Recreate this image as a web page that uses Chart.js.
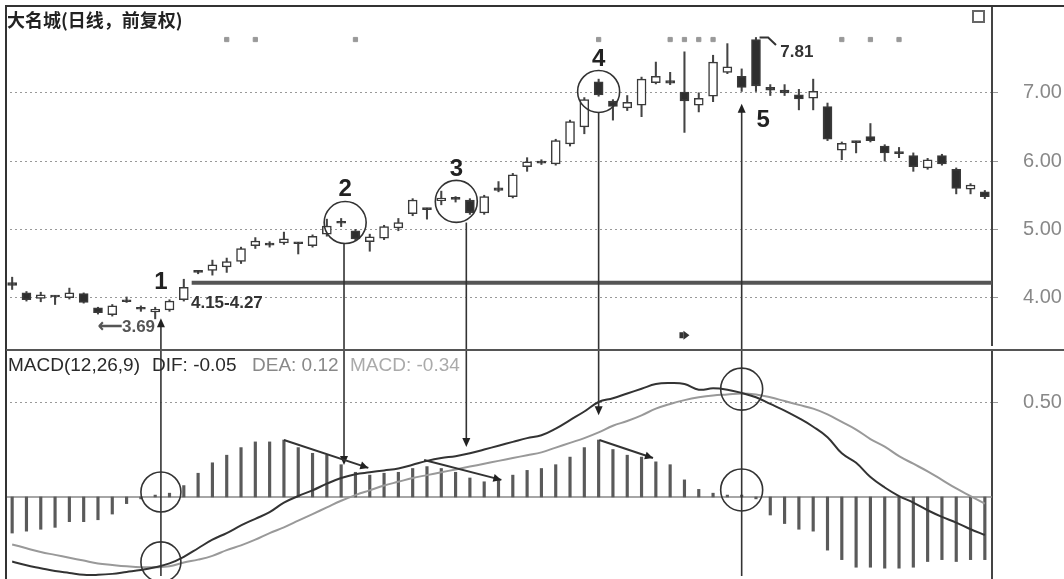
<!DOCTYPE html>
<html>
<head>
<meta charset="utf-8">
<script src="https://cdn.jsdelivr.net/npm/chart.js@4"></script>
<style>
    html, body { margin: 0; padding: 0; background: #fff; }
    #wrap { position: relative; width: 1064px; height: 579px; overflow: hidden; background: #fff; }
    canvas { position: absolute; left: 0; }
    #price { top: 0; }
    #macd { top: 350px; }
    .rule { position: absolute; background: #333; }
    #title { position: absolute; left: 7px; top: 9px; font: bold 18px "Noto Sans CJK SC", sans-serif; line-height: 20px; color: #222; }
    #legend { position: absolute; top: 355px; font: 19px "Liberation Sans", Arial, sans-serif; line-height: 20px; white-space: pre; }
    #legend span { position: absolute; top: 0; }
</style>
</head>
<body>
<div id="wrap">
    <canvas id="price" width="1064" height="350"></canvas>
    <canvas id="macd" width="1064" height="229"></canvas>
    <div class="rule" style="left:5px;top:5px;width:1059px;height:2px"></div>
    <div class="rule" style="left:5px;top:5px;width:2px;height:574px"></div>
    <div class="rule" style="left:6px;top:349px;width:1058px;height:2px;background:#555"></div>
    <div id="title">大名城(日线，前复权)</div>
    <div id="legend">
        <span style="left:8px;color:#2a2a2a">MACD(12,26,9)</span>
        <span style="left:152px;color:#2a2a2a">DIF: -0.05</span>
        <span style="left:252px;color:#888">DEA: 0.12</span>
        <span style="left:350px;color:#aaa">MACD: -0.34</span>
    </div>
</div>

<script>
// Daily candles, one per trading day
const open = [4.22, 4.07, 3.99, 4.02, 4.00, 4.06, 3.85, 3.75, 3.97, 3.86,
    3.79, 3.82, 3.97, 4.38, 4.40, 4.45, 4.53, 4.76, 4.80, 4.80,
    4.80, 4.76, 4.93, 5.10, 4.98, 4.82, 4.87, 5.02, 5.23, 5.30,
    5.42, 5.45, 5.43, 5.24, 5.61, 5.48, 5.92, 6.00, 5.96, 6.25,
    6.50, 7.16, 6.88, 6.78, 6.82, 7.15, 7.18, 7.01, 6.82, 6.95,
    7.30, 7.24, 7.78, 7.08, 7.04, 6.97, 6.92, 6.80, 6.16, 6.28,
    6.36, 6.22, 6.13, 6.08, 5.90, 6.08, 5.88, 5.59, 5.55];
const close = [4.18, 3.97, 4.04, 4.01, 4.07, 3.93, 3.78, 3.88, 3.94, 3.83,
    3.83, 3.95, 4.15, 4.37, 4.48, 4.53, 4.72, 4.83, 4.77, 4.86,
    4.79, 4.90, 5.05, 5.09, 4.86, 4.89, 5.04, 5.10, 5.43, 5.29,
    5.46, 5.44, 5.24, 5.48, 5.57, 5.80, 5.99, 5.97, 6.30, 6.58,
    6.90, 6.97, 6.80, 6.86, 7.20, 7.24, 7.14, 6.88, 6.92, 7.45,
    7.38, 7.08, 7.10, 7.04, 7.00, 6.91, 7.02, 6.32, 6.26, 6.27,
    6.30, 6.12, 6.11, 5.92, 6.02, 5.96, 5.60, 5.65, 5.48];
const high = [4.30, 4.09, 4.08, 4.03, 4.14, 4.07, 3.86, 3.90, 4.01, 3.88,
    3.86, 3.97, 4.27, 4.40, 4.55, 4.58, 4.74, 4.88, 4.82, 4.96,
    4.81, 4.92, 5.15, 5.16, 5.00, 4.93, 5.06, 5.16, 5.45, 5.31,
    5.56, 5.48, 5.45, 5.50, 5.70, 5.82, 6.05, 6.02, 6.32, 6.60,
    6.93, 7.20, 6.90, 6.96, 7.23, 7.45, 7.30, 7.60, 7.00, 7.55,
    7.72, 7.35, 7.81, 7.12, 7.12, 7.05, 7.20, 6.85, 6.28, 6.29,
    6.55, 6.24, 6.20, 6.12, 6.04, 6.10, 5.90, 5.67, 5.57];
const low = [4.12, 3.95, 3.94, 3.90, 3.98, 3.92, 3.76, 3.73, 3.93, 3.80,
    3.69, 3.80, 3.95, 4.35, 4.33, 4.37, 4.50, 4.72, 4.74, 4.78,
    4.64, 4.74, 4.90, 5.04, 4.84, 4.68, 4.85, 4.98, 5.20, 5.15,
    5.36, 5.40, 5.22, 5.22, 5.55, 5.46, 5.85, 5.95, 5.94, 6.22,
    6.40, 6.95, 6.60, 6.74, 6.65, 7.13, 7.12, 6.42, 6.72, 6.87,
    7.28, 7.02, 7.02, 6.96, 6.96, 6.75, 6.75, 6.30, 6.02, 6.12,
    6.28, 6.00, 6.05, 5.85, 5.88, 5.94, 5.52, 5.52, 5.45];

// MACD(12,26,9)
const dif = [-0.34, -0.36, -0.375, -0.39, -0.40, -0.41, -0.41, -0.405, -0.395, -0.385,
    -0.37, -0.35, -0.315, -0.27, -0.225, -0.19, -0.15, -0.115, -0.08, -0.03,
    0.005, 0.035, 0.07, 0.10, 0.12, 0.13, 0.14, 0.15, 0.17, 0.19,
    0.205, 0.215, 0.23, 0.25, 0.27, 0.29, 0.31, 0.325, 0.36, 0.405,
    0.45, 0.50, 0.52, 0.545, 0.57, 0.595, 0.60, 0.595, 0.565, 0.572,
    0.565, 0.548, 0.525, 0.49, 0.455, 0.415, 0.37, 0.315, 0.23, 0.18,
    0.105, 0.05, 0.005, -0.03, -0.07, -0.105, -0.135, -0.17, -0.20];
const dea = [-0.25, -0.27, -0.29, -0.305, -0.32, -0.335, -0.35, -0.358, -0.365, -0.37,
    -0.37, -0.365, -0.345, -0.33, -0.31, -0.28, -0.255, -0.225, -0.19, -0.16,
    -0.125, -0.09, -0.055, -0.02, 0.01, 0.035, 0.06, 0.08, 0.10, 0.115,
    0.13, 0.145, 0.16, 0.175, 0.19, 0.205, 0.22, 0.235, 0.26, 0.285,
    0.31, 0.34, 0.375, 0.40, 0.43, 0.465, 0.49, 0.51, 0.525, 0.535,
    0.54, 0.545, 0.54, 0.525, 0.505, 0.485, 0.465, 0.435, 0.395, 0.355,
    0.305, 0.265, 0.215, 0.175, 0.135, 0.09, 0.045, 0.005, -0.035];
const hist = [-0.19, -0.18, -0.17, -0.16, -0.13, -0.13, -0.12, -0.09, -0.035, -0.01,
    0.01, 0.02, 0.06, 0.125, 0.18, 0.22, 0.26, 0.29, 0.29, 0.30,
    0.26, 0.23, 0.22, 0.17, 0.13, 0.115, 0.125, 0.13, 0.15, 0.16,
    0.15, 0.13, 0.10, 0.08, 0.09, 0.115, 0.14, 0.15, 0.17, 0.21,
    0.26, 0.30, 0.25, 0.22, 0.21, 0.185, 0.17, 0.09, 0.04, 0.02,
    0.01, 0.01, -0.01, -0.095, -0.14, -0.17, -0.18, -0.28, -0.33, -0.37,
    -0.37, -0.375, -0.375, -0.37, -0.34, -0.33, -0.34, -0.33, -0.33];

const priceTicks = [4, 5, 6, 7];
const macdTicks = [0.5];
const eventDays = [15, 17, 24, 41, 46, 47, 48, 49, 58, 60, 62];

// hand-drawn notes, in (day index, value) units
const supportPrice = 4.22;
const supportFrom = 12.55;
const priceCircles = [{ i: 23.28, v: 5.10, r: 21 }, { i: 31.05, v: 5.41, r: 21 }, { i: 41.0, v: 7.02, r: 21 }];
const macdCircles = [{ i: 10.4, v: 0.026, r: 20 }, { i: 10.4, v: -0.342, r: 20 }, { i: 51.0, v: 0.568, r: 21 }, { i: 51.0, v: 0.037, r: 21 }];
const numberLabels = [
    { t: '1', i: 10.4, v: 4.23 }, { t: '2', i: 23.28, v: 5.59 }, { t: '3', i: 31.05, v: 5.88 },
    { t: '4', i: 41.0, v: 7.49 }, { t: '5', i: 52.5, v: 6.60 }
];
// up arrows start at the bottom of the MACD pane, down arrows end on the MACD pane
const arrows = [
    { i: 10.4, up: true, price: 3.70 },
    { i: 23.2, up: false, price: 4.80, macd: 0.168 },
    { i: 31.75, up: false, price: 5.10, macd: 0.263 },
    { i: 41.0, up: false, price: 6.72, macd: 0.43 },
    { i: 51.0, up: true, price: 6.84 }
];
const slopes = [
    { from: [19.0, 0.30], to: [24.9, 0.153] },
    { from: [28.8, 0.195], to: [34.2, 0.09] },
    { from: [41.05, 0.30], to: [44.8, 0.205] }
];

const days = open.map((_, i) => i);
const EVENT_LEVEL = 7.78;
const axisFont = { family: '"Liberation Sans", Arial, sans-serif', size: 20 };

function head(ctx, x, y, angle, len, half) {
    ctx.save();
    ctx.translate(x, y);
    ctx.rotate(angle);
    ctx.beginPath();
    ctx.moveTo(0, 0);
    ctx.lineTo(-len, -half);
    ctx.lineTo(-len, half);
    ctx.closePath();
    ctx.fill();
    ctx.restore();
}

function vline(ctx, x, y1, y2) {
    ctx.beginPath();
    ctx.moveTo(x, y1);
    ctx.lineTo(x, y2);
    ctx.stroke();
}

function rightAxis(min, max, ticks) {
    return {
        position: 'right',
        min: min,
        max: max,
        afterFit: s => { s.width = 72; s.paddingTop = 0; s.paddingBottom = 0; },
        afterBuildTicks: s => { s.ticks = ticks.map(v => ({ value: v })); },
        ticks: { color: '#888', font: axisFont, padding: 25, callback: v => v.toFixed(2) },
        grid: { color: '#999', lineWidth: 1, tickLength: 6 },
        border: { color: '#444', width: 2, dash: [2, 3] }
    };
}

const priceNotes = {
    id: 'priceNotes',
    afterDatasetsDraw(chart) {
        const { ctx, chartArea: a, scales: { x, y } } = chart;
        const px = v => x.getPixelForValue(v);
        const py = v => y.getPixelForValue(v);
        ctx.save();

        ctx.strokeStyle = '#555';
        ctx.lineWidth = 4;
        ctx.beginPath();
        ctx.moveTo(px(supportFrom), py(supportPrice));
        ctx.lineTo(a.right, py(supportPrice));
        ctx.stroke();

        ctx.strokeStyle = '#333';
        ctx.fillStyle = '#222';
        ctx.lineWidth = 1.6;
        priceCircles.forEach(c => {
            ctx.beginPath();
            ctx.arc(px(c.i), py(c.v), c.r, 0, Math.PI * 2);
            ctx.stroke();
        });

        arrows.forEach(ar => {
            const ax = px(ar.i);
            if (ar.up) {
                const tip = py(ar.price);
                vline(ctx, ax, chart.height, tip + 6);
                head(ctx, ax, tip, -Math.PI / 2, 9, 4);
            } else {
                vline(ctx, ax, py(ar.price), chart.height);
            }
        });

        ctx.font = 'bold 24px "Liberation Sans", Arial, sans-serif';
        ctx.textAlign = 'center';
        ctx.textBaseline = 'middle';
        numberLabels.forEach(l => ctx.fillText(l.t, px(l.i), py(l.v)));

        ctx.font = 'bold 17px "Liberation Sans", Arial, sans-serif';
        ctx.textAlign = 'left';
        ctx.fillStyle = '#333';
        ctx.fillText('4.15-4.27', px(12.5), py(3.913));
        ctx.fillStyle = '#555';
        ctx.fillText('⟵3.69', px(6.0), py(3.567));
        ctx.fillStyle = '#333';
        ctx.fillText('7.81', px(53.7), py(7.60));

        ctx.lineWidth = 2;
        ctx.beginPath();
        ctx.moveTo(px(52.25), py(7.81));
        ctx.lineTo(px(52.85), py(7.81));
        ctx.lineTo(px(53.4), py(7.70));
        ctx.stroke();

        // small jump marker under the candles
        const mx = px(47), my = py(3.45);
        ctx.fillRect(mx - 5, my - 3, 4, 6);
        head(ctx, mx + 5, my, 0, 6, 4.5);

        // window icon in the corner
        ctx.strokeStyle = '#666';
        ctx.lineWidth = 2;
        ctx.strokeRect(a.right - 19, 11, 11, 11);
        ctx.restore();
    }
};

const macdNotes = {
    id: 'macdNotes',
    beforeDatasetsDraw(chart) {
        const { ctx, chartArea: a, scales: { y } } = chart;
        ctx.save();
        ctx.strokeStyle = '#888';
        ctx.lineWidth = 1.5;
        ctx.beginPath();
        ctx.moveTo(a.left, y.getPixelForValue(0));
        ctx.lineTo(a.right, y.getPixelForValue(0));
        ctx.stroke();
        ctx.restore();
    },
    afterDatasetsDraw(chart) {
        const { ctx, scales: { x, y } } = chart;
        const px = v => x.getPixelForValue(v);
        const py = v => y.getPixelForValue(v);
        ctx.save();
        ctx.strokeStyle = '#333';
        ctx.fillStyle = '#222';
        ctx.lineWidth = 1.6;
        macdCircles.forEach(c => {
            ctx.beginPath();
            ctx.arc(px(c.i), py(c.v), c.r, 0, Math.PI * 2);
            ctx.stroke();
        });

        arrows.forEach(ar => {
            const ax = px(ar.i);
            if (ar.up) {
                vline(ctx, ax, 0, chart.height - 3);
            } else {
                const tip = py(ar.macd);
                vline(ctx, ax, 0, tip - 6);
                head(ctx, ax, tip, Math.PI / 2, 9, 4);
            }
        });

        ctx.lineWidth = 2;
        slopes.forEach(s => {
            const x1 = px(s.from[0]), y1 = py(s.from[1]);
            const x2 = px(s.to[0]), y2 = py(s.to[1]);
            ctx.beginPath();
            ctx.moveTo(x1, y1);
            ctx.lineTo(x2, y2);
            ctx.stroke();
            head(ctx, x2, y2, Math.atan2(y2 - y1, x2 - x1), 8, 4);
        });
        ctx.restore();
    }
};

const common = {
    responsive: false,
    animation: false,
    events: [],
    plugins: { legend: { display: false }, tooltip: { enabled: false } }
};

new Chart(document.getElementById('price'), {
    type: 'bar',
    data: {
        labels: days,
        datasets: [
            {
                type: 'line',
                data: days.map(i => eventDays.includes(i) ? EVENT_LEVEL : null),
                showLine: false,
                pointStyle: 'rect',
                pointRadius: 3,
                backgroundColor: '#999',
                borderColor: '#999',
                order: 0
            },
            {
                data: days.map(i => [open[i], close[i]]),
                grouped: false,
                barThickness: 9,
                minBarLength: 2,
                backgroundColor: days.map(i => close[i] >= open[i] ? '#fff' : '#2e2e2e'),
                borderColor: '#3a3a3a',
                borderWidth: 1.5,
                borderSkipped: false,
                order: 1
            },
            {
                data: days.map(i => [low[i], high[i]]),
                grouped: false,
                barThickness: 1.4,
                backgroundColor: '#444',
                order: 2
            }
        ]
    },
    options: {
        ...common,
        layout: { padding: { left: 5, top: 6, right: 0, bottom: 0 } },
        scales: {
            x: { type: 'category', offset: true, display: false },
            y: rightAxis(3.307, 8.271, priceTicks)
        }
    },
    plugins: [priceNotes]
});

new Chart(document.getElementById('macd'), {
    type: 'bar',
    data: {
        labels: days,
        datasets: [
            {
                type: 'line',
                data: dif,
                borderColor: '#333',
                borderWidth: 2,
                pointRadius: 0,
                tension: 0.4,
                order: 1
            },
            {
                type: 'line',
                data: dea,
                borderColor: '#999',
                borderWidth: 2,
                pointRadius: 0,
                tension: 0.4,
                order: 2
            },
            {
                data: hist,
                barThickness: 2.5,
                backgroundColor: '#5a5a5a',
                order: 3
            }
        ]
    },
    options: {
        ...common,
        layout: { padding: { left: 5, top: 0, right: 0, bottom: 0 } },
        scales: {
            x: { type: 'category', offset: true, display: false },
            y: rightAxis(-0.432, 0.774, macdTicks)
        }
    },
    plugins: [macdNotes]
});
</script>
</body>
</html>
